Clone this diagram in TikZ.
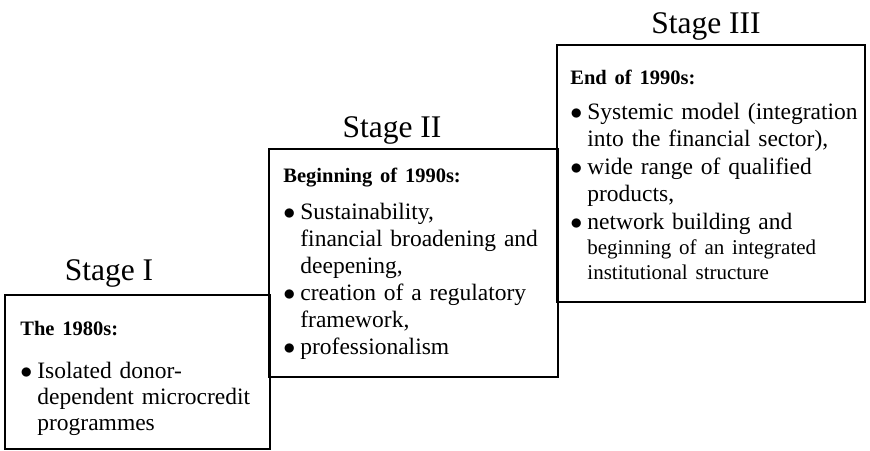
\documentclass[tikz,border=0pt]{standalone}
\usepackage{fontspec}
\setmainfont{Liberation Serif}
\usetikzlibrary{positioning}

\tikzset{
  stagebox/.style={line width=1pt},
  stagetitle/.style={anchor=base, inner sep=0pt, font=\fontsize{15.75}{18}\selectfont},
  stagetext/.style={anchor=base west, inner sep=0pt, text width=#1},
}
\newcommand{\stagehead}[1]{{\fontsize{10.25}{12}\selectfont\bfseries #1}\par}
\newcommand{\stageitem}{\par\hangindent=8.5pt\hangafter=1\noindent\makebox[8.5pt][l]{$\bullet$}}
\newcommand{\nl}{\newline}

\begin{document}
\begin{tikzpicture}[x=0.5pt, y=-0.5pt]
\useasboundingbox (0,0) rectangle (870,450);

%boxes
\draw[stagebox] (5,295) rectangle (270,449);
\draw[stagebox] (269,149) rectangle (558,377);
\draw[stagebox] (557,45) rectangle (865,302);

%titles
\node[stagetitle] (titleI) at (109,280) {Stage I};
\node[stagetitle] (titleII) at (392,137) {Stage II};
\node[stagetitle] (titleIII) at (706,33) {Stage III};

%contents
\node[stagetext=125pt, font=\fontsize{11.75}{13.1}\selectfont] (textI) at (20,335)
  {\stagehead{The 1980s:}\vspace{8.6pt}%
   \stageitem Isolated donor-\nl dependent microcredit\nl programmes\par};
\node[stagetext=137pt, font=\fontsize{11.75}{13.5}\selectfont] (textII) at (283,182)
  {\stagehead{Beginning of 1990s:}\vspace{5.3pt}%
   \stageitem Sustainability,\nl \makebox[122.5pt][s]{financial broadening and}\nl deepening,
   \stageitem creation of a regulatory\nl framework,
   \stageitem professionalism\par};
\node[stagetext=147pt, font=\fontsize{11.75}{13.75}\selectfont] (textIII) at (570,84)
  {\stagehead{End of 1990s:}\vspace{3.8pt}%
   \stageitem Systemic model (integration\nl into the financial sector),
   \stageitem wide range of qualified\nl products,\par\vspace{1.5pt}%
   \stageitem network building and\nl {\fontsize{10.5}{12.4}\selectfont beginning of an integrated\nl institutional structure\par}};

\end{tikzpicture}
\end{document}
